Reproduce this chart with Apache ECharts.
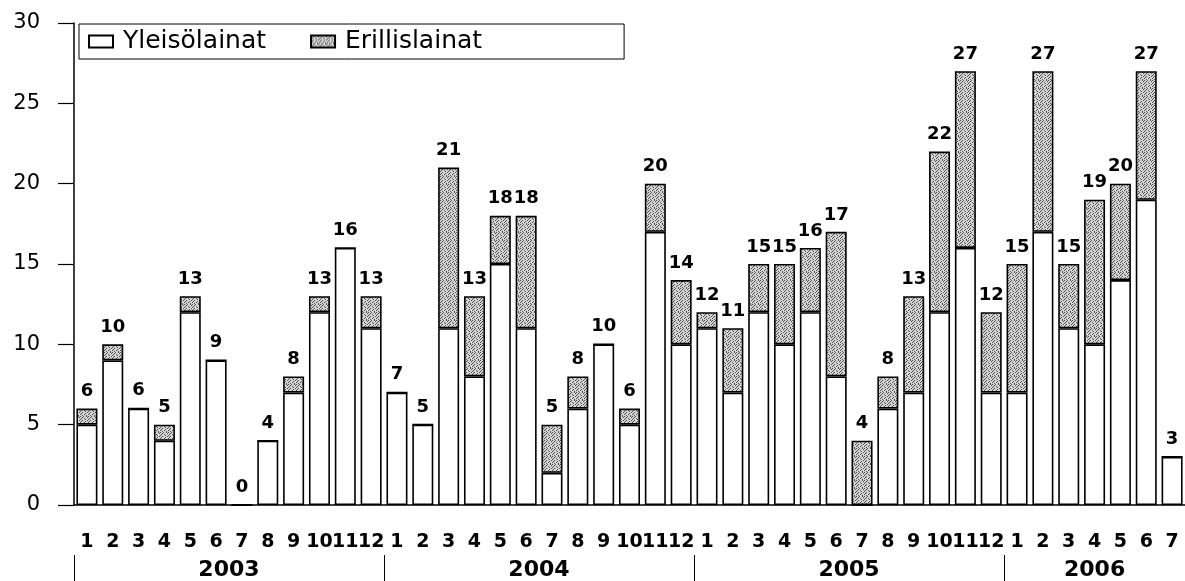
<!DOCTYPE html>
<html>
<head>
<meta charset="utf-8">
<script src="https://cdn.jsdelivr.net/npm/echarts@6/dist/echarts.min.js"></script>
<style>
html, body { margin: 0; padding: 0; background: #fff; }
#main { width: 1185px; height: 581px; }
</style>
</head>
<body>
<div id="main"></div>
<script>
// data
var years = ['2003', '2004', '2005', '2006'];
var monthsPerYear = [12, 12, 12, 7];
var yleisolainat = [5, 9, 6, 4, 12, 9, 0, 4, 7, 12, 16, 11,
                    7, 5, 11, 8, 15, 11, 2, 6, 10, 5, 17, 10,
                    11, 7, 12, 10, 12, 8, 0, 6, 7, 12, 16, 7,
                    7, 17, 11, 10, 14, 19, 3];
var erillislainat = [1, 1, 0, 1, 1, 0, 0, 0, 1, 1, 0, 2,
                     0, 0, 10, 5, 3, 7, 3, 2, 0, 1, 3, 4,
                     1, 4, 3, 5, 4, 9, 4, 2, 6, 10, 11, 5,
                     8, 10, 4, 9, 6, 8, 0];
var yTicks = [0, 5, 10, 15, 20, 25, 30];

// categories like "2003-1"
var categories = [];
var yearFirst = [];
years.forEach(function (y, i) {
    yearFirst.push(categories.length);
    for (var m = 1; m <= monthsPerYear[i]; m++) {
        categories.push(y + '-' + m);
    }
});
// label index for each year (middle of its months)
var yearLabelIdx = years.map(function (y, i) {
    return yearFirst[i] + Math.floor(monthsPerYear[i] / 2);
});

// speckled grey fill
var tile = document.createElement('canvas');
tile.width = 8;
tile.height = 8;
var ctx = tile.getContext('2d');
ctx.fillStyle = '#d6d6d6';
ctx.fillRect(0, 0, 8, 8);
var dots = ['10010010', '00100001', '01001000', '10000100',
            '00100001', '01000100', '10001000', '00100010'];
ctx.fillStyle = '#4a4a4a';
dots.forEach(function (row, y) {
    row.split('').forEach(function (c, x) {
        if (c === '1') ctx.fillRect(x, y, 1, 1);
    });
});

var myChart = echarts.init(document.getElementById('main'));

var option = {
    animation: false,
    backgroundColor: '#fff',
    grid: { left: 74, right: -5, top: 23, bottom: 76 },
    legend: {
        left: 79,
        top: 24,
        padding: [5, 142, 5, 9],
        itemWidth: 24,
        itemHeight: 12,
        itemGap: 44,
        icon: 'rect',
        backgroundColor: '#fff',
        borderColor: '#000',
        borderWidth: 1,
        textStyle: { fontFamily: 'DejaVu Sans', fontSize: 25, color: '#000', padding: [0, 0, 0, 5] },
        data: ['Yleisölainat', 'Erillislainat']
    },
    xAxis: [{
        type: 'category',
        data: categories,
        axisLine: { lineStyle: { color: '#000', width: 1.5 } },
        axisTick: { alignWithLabel: true, length: 13, lineStyle: { color: '#000', width: 1.2 } },
        axisLabel: {
            interval: 0,
            margin: 28,
            color: '#000',
            fontFamily: 'DejaVu Sans',
            fontWeight: 'bold',
            fontSize: 19,
            formatter: function (v) { return v.split('-')[1]; }
        }
    }, {
        type: 'category',
        data: categories,
        position: 'bottom',
        offset: 50,
        axisLine: { show: true, lineStyle: { color: '#000', opacity: 0 } },
        axisTick: {
            show: true,
            length: 30,
            interval: function (i) { return yearFirst.indexOf(i) >= 0; },
            lineStyle: { color: '#000', width: 1 }
        },
        axisLabel: {
            margin: 4,
            interval: function (i) { return yearLabelIdx.indexOf(i) >= 0; },
            formatter: function (v) {
                var y = v.split('-')[0];
                var n = monthsPerYear[years.indexOf(y)];
                return n % 2 === 0 ? '{e|' + y + '}' : '{o|' + y + '}';
            },
            rich: {
                e: { fontFamily: 'DejaVu Sans', fontWeight: 'bold', fontSize: 22, color: '#000', padding: [0, 26, 0, 0] },
                o: { fontFamily: 'DejaVu Sans', fontWeight: 'bold', fontSize: 22, color: '#000' }
            }
        }
    }],
    yAxis: {
        type: 'value',
        min: yTicks[0],
        max: yTicks[yTicks.length - 1],
        interval: yTicks[1] - yTicks[0],
        splitLine: { show: false },
        axisLine: { show: true, lineStyle: { color: '#000', width: 1.5 } },
        axisTick: { show: true, length: 16, lineStyle: { color: '#000', width: 1.2 } },
        axisLabel: { margin: 34, color: '#000', fontFamily: 'DejaVu Sans', fontSize: 21 }
    },
    series: [{
        name: 'Yleisölainat',
        type: 'bar',
        stack: 'lainat',
        barWidth: 21,
        data: yleisolainat,
        itemStyle: { color: '#fff', borderColor: '#000', borderWidth: 1.6 }
    }, {
        name: 'Erillislainat',
        type: 'bar',
        stack: 'lainat',
        barWidth: 21,
        data: erillislainat,
        itemStyle: { color: { image: tile, repeat: 'repeat' }, borderColor: '#000', borderWidth: 1.6 },
        label: {
            show: true,
            position: 'top',
            distance: 8,
            color: '#000',
            fontFamily: 'DejaVu Sans',
            fontWeight: 'bold',
            fontSize: 18,
            formatter: function (p) {
                return yleisolainat[p.dataIndex] + erillislainat[p.dataIndex];
            }
        }
    }]
};

myChart.setOption(option);
</script>
</body>
</html>
